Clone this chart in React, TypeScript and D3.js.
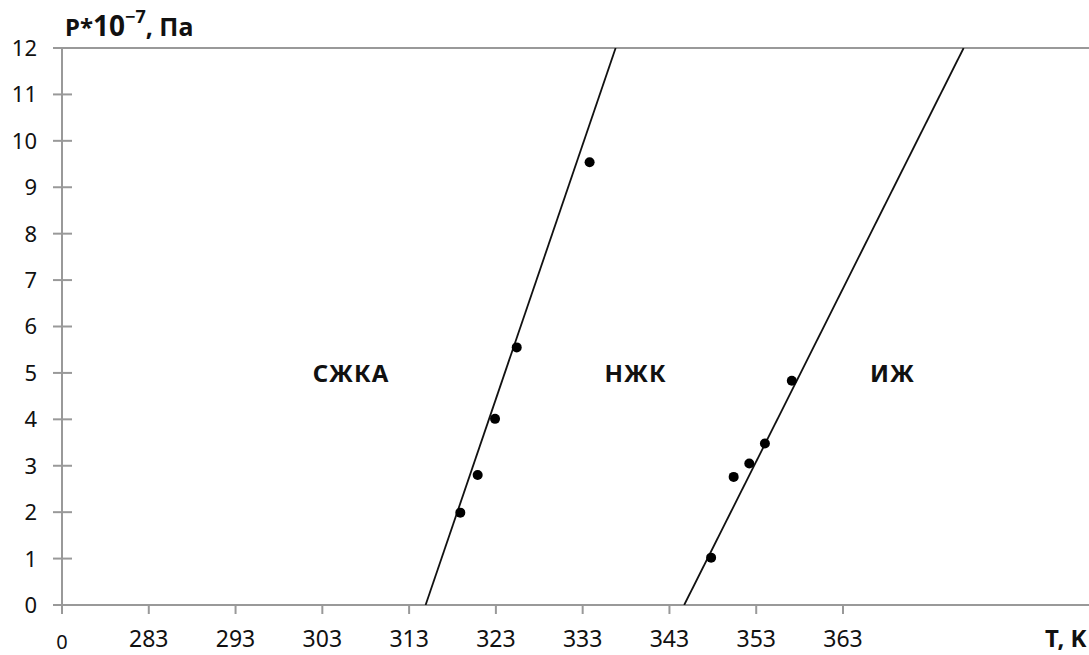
import React from "react";
import * as d3 from "d3";

// ---- data ----
const xTickValues = [283, 293, 303, 313, 323, 333, 343, 353, 363];
const yTickValues = [0, 1, 2, 3, 4, 5, 6, 7, 8, 9, 10, 11, 12];

// boundary line 1 (СЖКА -> НЖК)
const line1T = [314.9, 336.8];
const line1P = [0, 12];
const points1T = [318.9, 320.9, 322.9, 325.4, 333.8];
const points1P = [1.99, 2.8, 4.01, 5.55, 9.54];

// boundary line 2 (НЖК -> ИЖ)
const line2T = [344.7, 376.9];
const line2P = [0, 12];
const points2T = [347.8, 350.4, 352.2, 354.0, 357.1];
const points2P = [1.02, 2.76, 3.05, 3.48, 4.83];

const phaseNames = ["СЖКА", "НЖК", "ИЖ"];
const phaseT = [306.3, 339.1, 368.7];
const phaseP = [5.0, 5.0, 5.0];

const W = 1089;
const H = 655;
const FONT = "'Noto Sans', 'DejaVu Sans', sans-serif";

export default function App() {
  const x = d3.scaleLinear().domain([273, 363]).range([62, 843]);
  const y = d3.scaleLinear().domain([0, 12]).range([605, 48]);
  const xRight = W;
  const axisColor = "#999";

  const lineGen = d3
    .line<[number, number]>()
    .x((d) => x(d[0]))
    .y((d) => y(d[1]));

  const l1: [number, number][] = line1T.map((t, i) => [t, line1P[i]]);
  const l2: [number, number][] = line2T.map((t, i) => [t, line2P[i]]);

  return (
    <div style={{ position: "absolute", left: 0, top: 0 }}>
      <svg width={W} height={H} style={{ display: "block", background: "#fff" }}>
        <defs>
          <clipPath id="plot">
            <rect x={x(273)} y={y(12)} width={xRight - x(273)} height={y(0) - y(12)} />
          </clipPath>
        </defs>

        {/* top border */}
        <line x1={53} x2={xRight} y1={y(12)} y2={y(12)} stroke={axisColor} strokeWidth={2} />
        {/* x axis */}
        <line x1={53} x2={xRight} y1={y(0)} y2={y(0)} stroke={axisColor} strokeWidth={2} />
        {/* y axis */}
        <line x1={x(273)} x2={x(273)} y1={y(12)} y2={y(0) + 9} stroke={axisColor} strokeWidth={2} />

        {/* y ticks */}
        {yTickValues.map((v) => (
          <g key={"yt" + v}>
            {v > 0 && v < 12 && (
              <line x1={53} x2={72} y1={y(v)} y2={y(v)} stroke={axisColor} strokeWidth={2} />
            )}
            <text
              x={37}
              y={y(v)}
              dy="0.36em"
              textAnchor="end"
              fontFamily={FONT}
              fontSize={22}
              fill="#111"
            >
              {v}
            </text>
          </g>
        ))}

        {/* x ticks */}
        {xTickValues.map((v) => (
          <g key={"xt" + v}>
            <line x1={x(v)} x2={x(v)} y1={y(0)} y2={y(0) + 9} stroke={axisColor} strokeWidth={2} />
            <text
              x={x(v)}
              y={647}
              textAnchor="middle"
              fontFamily={FONT}
              fontSize={23}
              fill="#111"
            >
              {v}
            </text>
          </g>
        ))}
        <text x={x(273)} y={649} textAnchor="middle" fontFamily={FONT} fontSize={20} fill="#111">
          0
        </text>

        {/* boundary lines */}
        <g clipPath="url(#plot)">
          <path d={lineGen(l1) || ""} stroke="#111" strokeWidth={1.8} fill="none" />
          <path d={lineGen(l2) || ""} stroke="#111" strokeWidth={1.8} fill="none" />
        </g>

        {/* points */}
        {points1T.map((t, i) => (
          <circle key={"p1" + i} cx={x(t)} cy={y(points1P[i])} r={5} fill="#000" />
        ))}
        {points2T.map((t, i) => (
          <circle key={"p2" + i} cx={x(t)} cy={y(points2P[i])} r={5} fill="#000" />
        ))}

        {/* phase labels */}
        {phaseNames.map((n, i) => (
          <text
            key={n}
            x={x(phaseT[i])}
            y={y(phaseP[i])}
            dy="0.36em"
            textAnchor="middle"
            fontFamily={FONT}
            fontWeight="bold"
            fontSize={24}
            letterSpacing={1}
            fill="#111"
          >
            {n}
          </text>
        ))}

        {/* axis titles */}
        <text x={65} y={36} fontFamily={FONT} fontWeight="bold" fill="#111">
          <tspan fontSize={24}>P*</tspan>
          <tspan fontSize={28}>10</tspan>
          <tspan fontSize={18} dy={-13}>−7</tspan>
          <tspan fontSize={25} dy={13}>, Па</tspan>
        </text>
        <text x={1045} y={647} fontFamily={FONT} fontWeight="bold" fontSize={24} fill="#111">
          T, K
        </text>
      </svg>
    </div>
  );
}
